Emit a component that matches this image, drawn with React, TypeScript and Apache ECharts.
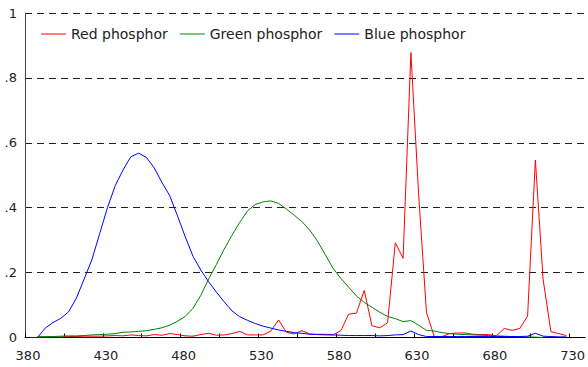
import React, { useEffect, useRef } from "react";
import * as echarts from "echarts";

const wavelengths = [
  383, 388, 393, 398, 403, 408, 413, 418, 423, 428, 433, 438, 443, 448, 453, 458, 463, 468, 473, 478,
  483, 488, 493, 498, 503, 508, 513, 518, 523, 528, 533, 538, 543, 548, 553, 558, 563, 568, 573, 578,
  583, 588, 593, 598, 603, 608, 613, 618, 623, 628, 633, 638, 643, 648, 653, 658, 663, 668, 673, 678,
  683, 688, 693, 698, 703, 708, 713, 718, 723, 728,
];

const redPhosphor = [
  null, 0.001, 0.002, 0.002, 0.002, 0.003, 0.003, 0.004, 0.004, 0.004, 0.005, 0.006, 0.005, 0.008, 0.006, 0.005, 0.009, 0.007, 0.012, 0.009,
  0.005, 0.004, 0.009, 0.013, 0.007, 0.008, 0.012, 0.019, 0.008, 0.008, 0.008, 0.02, 0.054, 0.016, 0.011, 0.021, 0.011, 0.01, 0.01, 0.008,
  0.021, 0.072, 0.075, 0.145, 0.036, 0.03, 0.045, 0.292, 0.244, 0.878, 0.44, 0.078, 0.003, 0.003, 0.012, 0.014, 0.014, 0.01, 0.009, 0.009,
  0.005, 0.028, 0.022, 0.028, 0.066, 0.547, 0.178, 0.018, 0.012, 0.006,
];

const greenPhosphor = [
  null, 0.002, 0.003, 0.003, 0.004, 0.005, 0.005, 0.006, 0.008, 0.009, 0.01, 0.012, 0.016, 0.017, 0.019, 0.021, 0.025, 0.03, 0.038, 0.05,
  0.065, 0.09, 0.13, 0.18, 0.225, 0.272, 0.315, 0.355, 0.39, 0.41, 0.418, 0.421, 0.413, 0.396, 0.377, 0.357, 0.331, 0.297, 0.255, 0.213,
  0.182, 0.155, 0.128, 0.108, 0.093, 0.078, 0.065, 0.058, 0.049, 0.052, 0.038, 0.022, 0.02, 0.015, 0.012, 0.01, 0.009, 0.008, 0.007, 0.006,
  0.005, 0.004, 0.003, 0.002, 0.002, 0.001, 0, null, null, null,
];

const bluePhosphor = [
  0, 0, 0.029, 0.046, 0.059, 0.079, 0.121, 0.18, 0.24, 0.32, 0.4, 0.468, 0.516, 0.557, 0.568, 0.555, 0.523, 0.478, 0.437, 0.375,
  0.31, 0.25, 0.208, 0.172, 0.14, 0.11, 0.082, 0.064, 0.053, 0.043, 0.035, 0.029, 0.023, 0.019, 0.015, 0.013, 0.01, 0.009, 0.008, 0.008,
  0.007, 0.006, 0.006, 0.006, 0.006, 0.005, 0.006, 0.008, 0.009, 0.02, 0.009, 0.003, 0.003, 0.003, 0.003, 0.003, 0.003, 0.003, 0.003, 0.003,
  0.003, 0.003, 0.003, 0.003, 0.004, 0.013, 0.004, 0.003, 0.002, 0.002,
];

const yTickLabels: Record<string, string> = { "0": "0", "0.2": ".2", "0.4": ".4", "0.6": ".6", "0.8": ".8", "1": "1" };

const FONT = "DejaVu Sans";

function toPairs(vals: (number | null)[]) {
  return wavelengths.map((w, i) => [w, vals[i]]).filter((p) => p[1] !== null);
}

export default function App() {
  const ref = useRef<HTMLDivElement>(null);
  useEffect(() => {
    if (!ref.current) return;
    const chart = echarts.init(ref.current, undefined, { renderer: "svg" });
    const mk = (name: string, color: string, vals: (number | null)[]) => ({
      name,
      type: "line",
      data: toPairs(vals),
      symbol: "none",
      showSymbol: false,
      lineStyle: { color, width: 1 },
      itemStyle: { color },
      emphasis: { disabled: true },
    });
    chart.setOption({
      animation: false,
      backgroundColor: "#ffffff",
      grid: { left: 25, right: 0, top: 13, bottom: 29.5, containLabel: false },
      legend: {
        left: 41,
        top: 27,
        padding: 0,
        icon: "rect",
        itemWidth: 25,
        itemHeight: 1,
        itemGap: 12,
        textStyle: { fontFamily: FONT, fontSize: 14, color: "#222" },
        data: ["Red phosphor", "Green phosphor", "Blue phosphor"],
      },
      xAxis: {
        type: "value",
        min: 380,
        max: 740,
        interval: 25,
        axisLine: { show: true, lineStyle: { color: "#000", width: 1 } },
        axisTick: { show: true, inside: true, length: 4, lineStyle: { color: "#000" } },
        splitLine: { show: false },
        axisLabel: {
          showMaxLabel: false,
          margin: 11,
          padding: [0, 0, 0, 6],
          fontFamily: FONT,
          fontSize: 13,
          color: "#222",
          formatter: (v: number) => ((v - 380) % 50 === 0 && v <= 730 ? String(v) : ""),
        },
      },
      yAxis: {
        type: "value",
        min: 0,
        max: 1,
        interval: 0.2,
        axisLine: { show: true, lineStyle: { color: "#444", width: 1 } },
        axisTick: { show: false },
        splitLine: { show: true, lineStyle: { color: "#222", type: [7, 5], width: 1 } },
        axisLabel: {
          margin: 8,
          fontFamily: FONT,
          fontSize: 13,
          color: "#222",
          formatter: (v: number) => yTickLabels[String(Math.round(v * 10) / 10)] ?? String(v),
        },
      },
      series: [
        mk("Red phosphor", "#ff0000", redPhosphor),
        mk("Green phosphor", "#008000", greenPhosphor),
        mk("Blue phosphor", "#0000ff", bluePhosphor),
      ],
    });
    return () => chart.dispose();
  }, []);
  return (
    <div
      ref={ref}
      style={{ position: "fixed", left: 0, top: 0, width: 588, height: 367, background: "#fff" }}
    />
  );
}
